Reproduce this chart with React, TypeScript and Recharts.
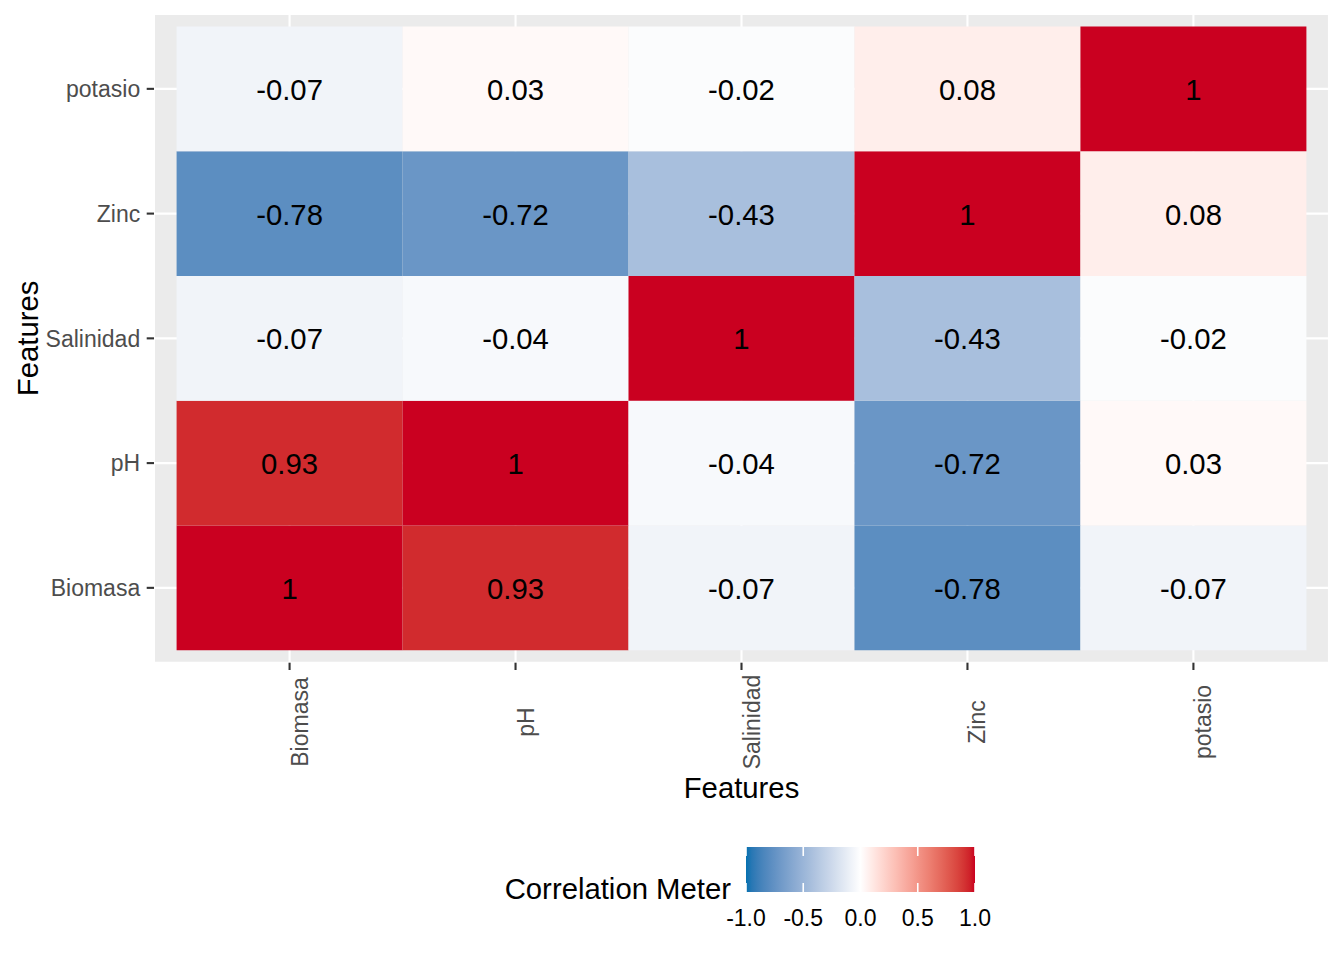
import React from 'react';
import { ScatterChart, Scatter, XAxis, YAxis, CartesianGrid, ReferenceArea } from 'recharts';

// ---- data ----
const features = ['Biomasa', 'pH', 'Salinidad', 'Zinc', 'potasio'];
const biomasaRow = [1, 0.93, -0.07, -0.78, -0.07];
const phRow = [0.93, 1, -0.04, -0.72, 0.03];
const salinidadRow = [-0.07, -0.04, 1, -0.43, -0.02];
const zincRow = [-0.78, -0.72, -0.43, 1, 0.08];
const potasioRow = [-0.07, 0.03, -0.02, 0.08, 1];
const matrix = [biomasaRow, phRow, salinidadRow, zincRow, potasioRow];
const featureTicks = [1, 2, 3, 4, 5];
const legendTicks = [-1, -0.5, 0, 0.5, 1];

// ---- colour scale (Lab interpolation like ggplot's gradient2) ----
const LOW = '#0571B0';
const MID = '#FFFFFF';
const HIGH = '#CA0020';

function hexToRgb(h: string) {
  return [parseInt(h.slice(1, 3), 16), parseInt(h.slice(3, 5), 16), parseInt(h.slice(5, 7), 16)];
}
function toLin(c: number) {
  c /= 255;
  return c <= 0.04045 ? c / 12.92 : Math.pow((c + 0.055) / 1.055, 2.4);
}
function fromLin(c: number) {
  const v = c <= 0.0031308 ? 12.92 * c : 1.055 * Math.pow(c, 1 / 2.4) - 0.055;
  return Math.max(0, Math.min(255, Math.round(v * 255)));
}
const WX = 0.95047, WY = 1.0, WZ = 1.08883;
function f(t: number) {
  return t > 216 / 24389 ? Math.cbrt(t) : (24389 / 27 * t + 16) / 116;
}
function finv(t: number) {
  return t * t * t > 216 / 24389 ? t * t * t : (116 * t - 16) / (24389 / 27);
}
function hexToLab(h: string) {
  const [r, g, b] = hexToRgb(h).map(toLin);
  const X = 0.4124 * r + 0.3576 * g + 0.1805 * b;
  const Y = 0.2126 * r + 0.7152 * g + 0.0722 * b;
  const Z = 0.0193 * r + 0.1192 * g + 0.9505 * b;
  const fx = f(X / WX), fy = f(Y / WY), fz = f(Z / WZ);
  return [116 * fy - 16, 500 * (fx - fy), 200 * (fy - fz)];
}
function labToHex(L: number, a: number, bb: number) {
  const fy = (L + 16) / 116;
  const fx = fy + a / 500;
  const fz = fy - bb / 200;
  const X = finv(fx) * WX, Y = finv(fy) * WY, Z = finv(fz) * WZ;
  const r = 3.2406 * X - 1.5372 * Y - 0.4986 * Z;
  const g = -0.9689 * X + 1.8758 * Y + 0.0415 * Z;
  const b = 0.0557 * X - 0.204 * Y + 1.057 * Z;
  const hx = (n: number) => fromLin(n).toString(16).padStart(2, '0');
  return '#' + hx(r) + hx(g) + hx(b);
}
const labLow = hexToLab(LOW), labMid = hexToLab(MID), labHigh = hexToLab(HIGH);
function colorFor(v: number) {
  const t = Math.max(-1, Math.min(1, v));
  const end = t < 0 ? labLow : labHigh;
  const k = Math.abs(t);
  return labToHex(
    labMid[0] + (end[0] - labMid[0]) * k,
    labMid[1] + (end[1] - labMid[1]) * k,
    labMid[2] + (end[2] - labMid[2]) * k
  );
}

const cells = matrix.flatMap((row, j) =>
  row.map((v, i) => ({ x: i + 1, y: j + 1, v }))
);

const FONT = '"Liberation Sans", Arial, sans-serif';
const TICK_FS = 23;

const XTick = (props: any) => {
  const { x, y, payload } = props;
  const name = features[Math.round(payload.value) - 1] ?? '';
  const tx = x + 18;
  const ty = y + 46;
  return (
    <text
      x={tx}
      y={ty}
      transform={`rotate(-90, ${tx}, ${ty})`}
      textAnchor="middle"
      fontSize={TICK_FS}
      fill="#4D4D4D"
    >
      {name}
    </text>
  );
};

const YTick = (props: any) => {
  const { x, y, payload } = props;
  const name = features[Math.round(payload.value) - 1] ?? '';
  return (
    <text x={x - 0.5} y={y + 8.3} textAnchor="end" fontSize={TICK_FS} fill="#4D4D4D">
      {name}
    </text>
  );
};

const XTitle = (props: any) => {
  const vb = props.viewBox || {};
  return (
    <text x={vb.x + vb.width / 2} y={vb.y + 135} textAnchor="middle" fontSize={29.3} fill="#000">
      Features
    </text>
  );
};

const YTitle = (props: any) => {
  const vb = props.viewBox || {};
  const cy = vb.y + vb.height / 2;
  return (
    <text x={38} y={cy} transform={`rotate(-90, 38, ${cy})`} textAnchor="middle" fontSize={29.3} fill="#000">
      Features
    </text>
  );
};

const CellLabel = (props: any) => {
  const vb = props.viewBox || {};
  return (
    <text
      x={vb.x + vb.width / 2}
      y={vb.y + vb.height / 2 + 11}
      textAnchor="middle"
      fontSize={29.3}
      fill="#000"
    >
      {props.value}
    </text>
  );
};

const Legend = () => {
  const x0 = 746, x1 = 975, y0 = 847, y1 = 892;
  const stops = Array.from({ length: 41 }, (_, k) => -1 + k * 0.05);
  const px = (v: number) => x0 + ((v + 1) / 2) * (x1 - x0);
  return (
    <svg width={1344} height={960} style={{ position: 'absolute', left: 0, top: 0, pointerEvents: 'none' }}>
      <defs>
        <linearGradient id="corrGrad" x1="0" x2="1" y1="0" y2="0">
          {stops.map((s, k) => (
            <stop key={k} offset={`${((s + 1) / 2) * 100}%`} stopColor={colorFor(s)} />
          ))}
        </linearGradient>
      </defs>
      <text x={731} y={899} textAnchor="end" fontSize={29.3} fill="#000" fontFamily={FONT}>
        Correlation Meter
      </text>
      <rect x={x0} y={y0} width={x1 - x0} height={y1 - y0} fill="url(#corrGrad)" />
      {legendTicks.map((t) => (
        <g key={t}>
          <line x1={px(t)} x2={px(t)} y1={y0} y2={y0 + 9} stroke="#fff" strokeWidth={1.6} />
          <line x1={px(t)} x2={px(t)} y1={y1 - 9} y2={y1} stroke="#fff" strokeWidth={1.6} />
          <text x={px(t)} y={926} textAnchor="middle" fontSize={TICK_FS} fill="#000" fontFamily={FONT}>
            {t.toFixed(1)}
          </text>
        </g>
      ))}
    </svg>
  );
};

export default function App() {
  return (
    <div style={{ position: 'absolute', left: 0, top: 0, width: 1344, height: 960, background: '#fff', fontFamily: FONT }}>
      <ScatterChart width={1344} height={960} margin={{ top: 14, right: 15, bottom: 0, left: 0 }}>
        <CartesianGrid fill="#EBEBEB" fillOpacity={1} stroke="#FFFFFF" strokeWidth={2.1} />
        <XAxis
          type="number"
          dataKey="x"
          domain={[0.4, 5.6]}
          ticks={featureTicks}
          allowDataOverflow
          interval={0}
          height={297.3}
          axisLine={false}
          tickLine={{ stroke: '#333333', strokeWidth: 2.1 }}
          tickSize={7.3}
          tickMargin={6}
          tick={<XTick />}
          label={<XTitle />}
        />
        <YAxis
          type="number"
          dataKey="y"
          domain={[0.4, 5.6]}
          ticks={featureTicks}
          allowDataOverflow
          interval={0}
          width={154}
          axisLine={false}
          tickLine={{ stroke: '#333333', strokeWidth: 2.1 }}
          tickSize={7.3}
          tickMargin={6}
          tick={<YTick />}
          label={<YTitle />}
        />
        {cells.map((c) => (
          <ReferenceArea
            key={`${c.x}-${c.y}`}
            x1={c.x - 0.5}
            x2={c.x + 0.5}
            y1={c.y - 0.5}
            y2={c.y + 0.5}
            fill={colorFor(c.v)}
            fillOpacity={1}
            stroke="none"
            label={<CellLabel value={String(c.v)} />}
          />
        ))}
        <Scatter data={cells} isAnimationActive={false} shape={() => <g />} />
      </ScatterChart>
      <Legend />
    </div>
  );
}
